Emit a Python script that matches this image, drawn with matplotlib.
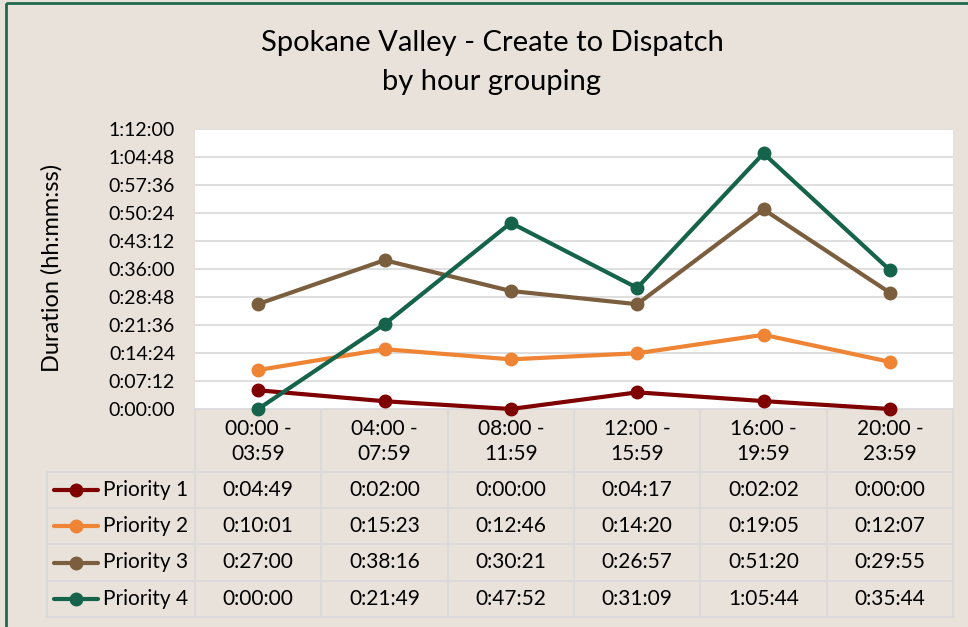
import matplotlib.pyplot as plt
import matplotlib.patches as mpatches

plt.rcParams['font.family'] = ['Lato', 'DejaVu Sans']

# categories and series (durations as hh:mm:ss)
hour_groups = ['00:00 -\n03:59', '04:00 -\n07:59', '08:00 -\n11:59',
               '12:00 -\n15:59', '16:00 -\n19:59', '20:00 -\n23:59']
series_names = ['Priority 1', 'Priority 2', 'Priority 3', 'Priority 4']
priority_1 = ['0:04:49', '0:02:00', '0:00:00', '0:04:17', '0:02:02', '0:00:00']
priority_2 = ['0:10:01', '0:15:23', '0:12:46', '0:14:20', '0:19:05', '0:12:07']
priority_3 = ['0:27:00', '0:38:16', '0:30:21', '0:26:57', '0:51:20', '0:29:55']
priority_4 = ['0:00:00', '0:21:49', '0:47:52', '0:31:09', '1:05:44', '0:35:44']
colors = ['#7F0000', '#EE8434', '#7A5E3E', '#15634A']


def to_sec(s):
    h, m, sec = s.split(':')
    return int(h) * 3600 + int(m) * 60 + int(sec)


def fmt(v, pos=None):
    v = int(round(v))
    return '%d:%02d:%02d' % (v // 3600, (v % 3600) // 60, v % 60)


all_series = [priority_1, priority_2, priority_3, priority_4]

W, H = 968, 627
bg = '#E8E2DB'
grid = '#D9D9D9'
fig = plt.figure(figsize=(W / 100, H / 100), dpi=100, facecolor=bg)

# pixel-space overlay for table and frame
over = fig.add_axes([0, 0, 1, 1], zorder=0)
over.set_xlim(0, W)
over.set_ylim(H, 0)
over.axis('off')
over.set_facecolor('none')

L, R, T, B = 195, 953, 129, 409
ax = fig.add_axes([L / W, 1 - B / H, (R - L) / W, (B - T) / H], zorder=1)
ax.set_facecolor('white')
x = list(range(len(hour_groups)))
for vals, c in zip(all_series, colors):
    ax.plot(x, [to_sec(v) for v in vals], color=c, lw=3, marker='o',
            markersize=9, clip_on=False, solid_capstyle='round')
ax.set_xlim(-0.5, len(hour_groups) - 0.5)
ax.set_ylim(0, 4320)
ax.set_yticks(range(0, 4321, 432))
ax.yaxis.set_major_formatter(plt.FuncFormatter(fmt))
ax.set_xticks([])
ax.grid(axis='y', color=grid, lw=1.2)
ax.set_axisbelow(True)
for s in ax.spines.values():
    s.set_visible(False)
ax.tick_params(axis='y', length=0, labelsize=14, pad=14.4)

fig.text(52 / W, 1 - 268 / H, 'Duration (hh:mm:ss)', rotation=90,
         ha='center', va='center', fontsize=17)
fig.text(492 / W, 1 - 43 / H, 'Spokane Valley - Create to Dispatch',
         ha='center', va='center', fontsize=21)
fig.text(492 / W, 1 - 82 / H, 'by hour grouping', ha='center', va='center',
         fontsize=21)

# data table
cw = (R - L) / len(hour_groups)
row_y = [472, 508, 544, 581, 617]
over.plot([L, R], [B, B], color=grid, lw=1.2)
for k in range(len(hour_groups) + 1):
    over.plot([L + k * cw] * 2, [B, row_y[-1]], color=grid, lw=1.2)
for yy in row_y:
    over.plot([47, R], [yy, yy], color=grid, lw=1.2)
over.plot([47, 47], [row_y[0], row_y[-1]], color=grid, lw=1.2)

for k, lab in enumerate(hour_groups):
    over.text(L + (k + 0.5) * cw, (B + row_y[0]) / 2 + 1, lab, ha='center',
              va='center', fontsize=15, linespacing=1.35)
for i, (name, vals, c) in enumerate(zip(series_names, all_series, colors)):
    yc = (row_y[i] + row_y[i + 1]) / 2
    over.plot([54, 98], [yc, yc], color=c, lw=3, solid_capstyle='round')
    over.plot([76], [yc], 'o', color=c, markersize=9)
    over.text(103, yc, name, ha='left', va='center', fontsize=15)
    for k, v in enumerate(vals):
        over.text(L + (k + 0.5) * cw, yc, v, ha='center', va='center',
                  fontsize=15)

# outer frame
over.add_patch(mpatches.Rectangle((6, 3), W + 20, H + 20, fill=False,
                                  edgecolor='#1F6A4E', lw=2))

fig.savefig('out.png', dpi=100, facecolor=bg)
